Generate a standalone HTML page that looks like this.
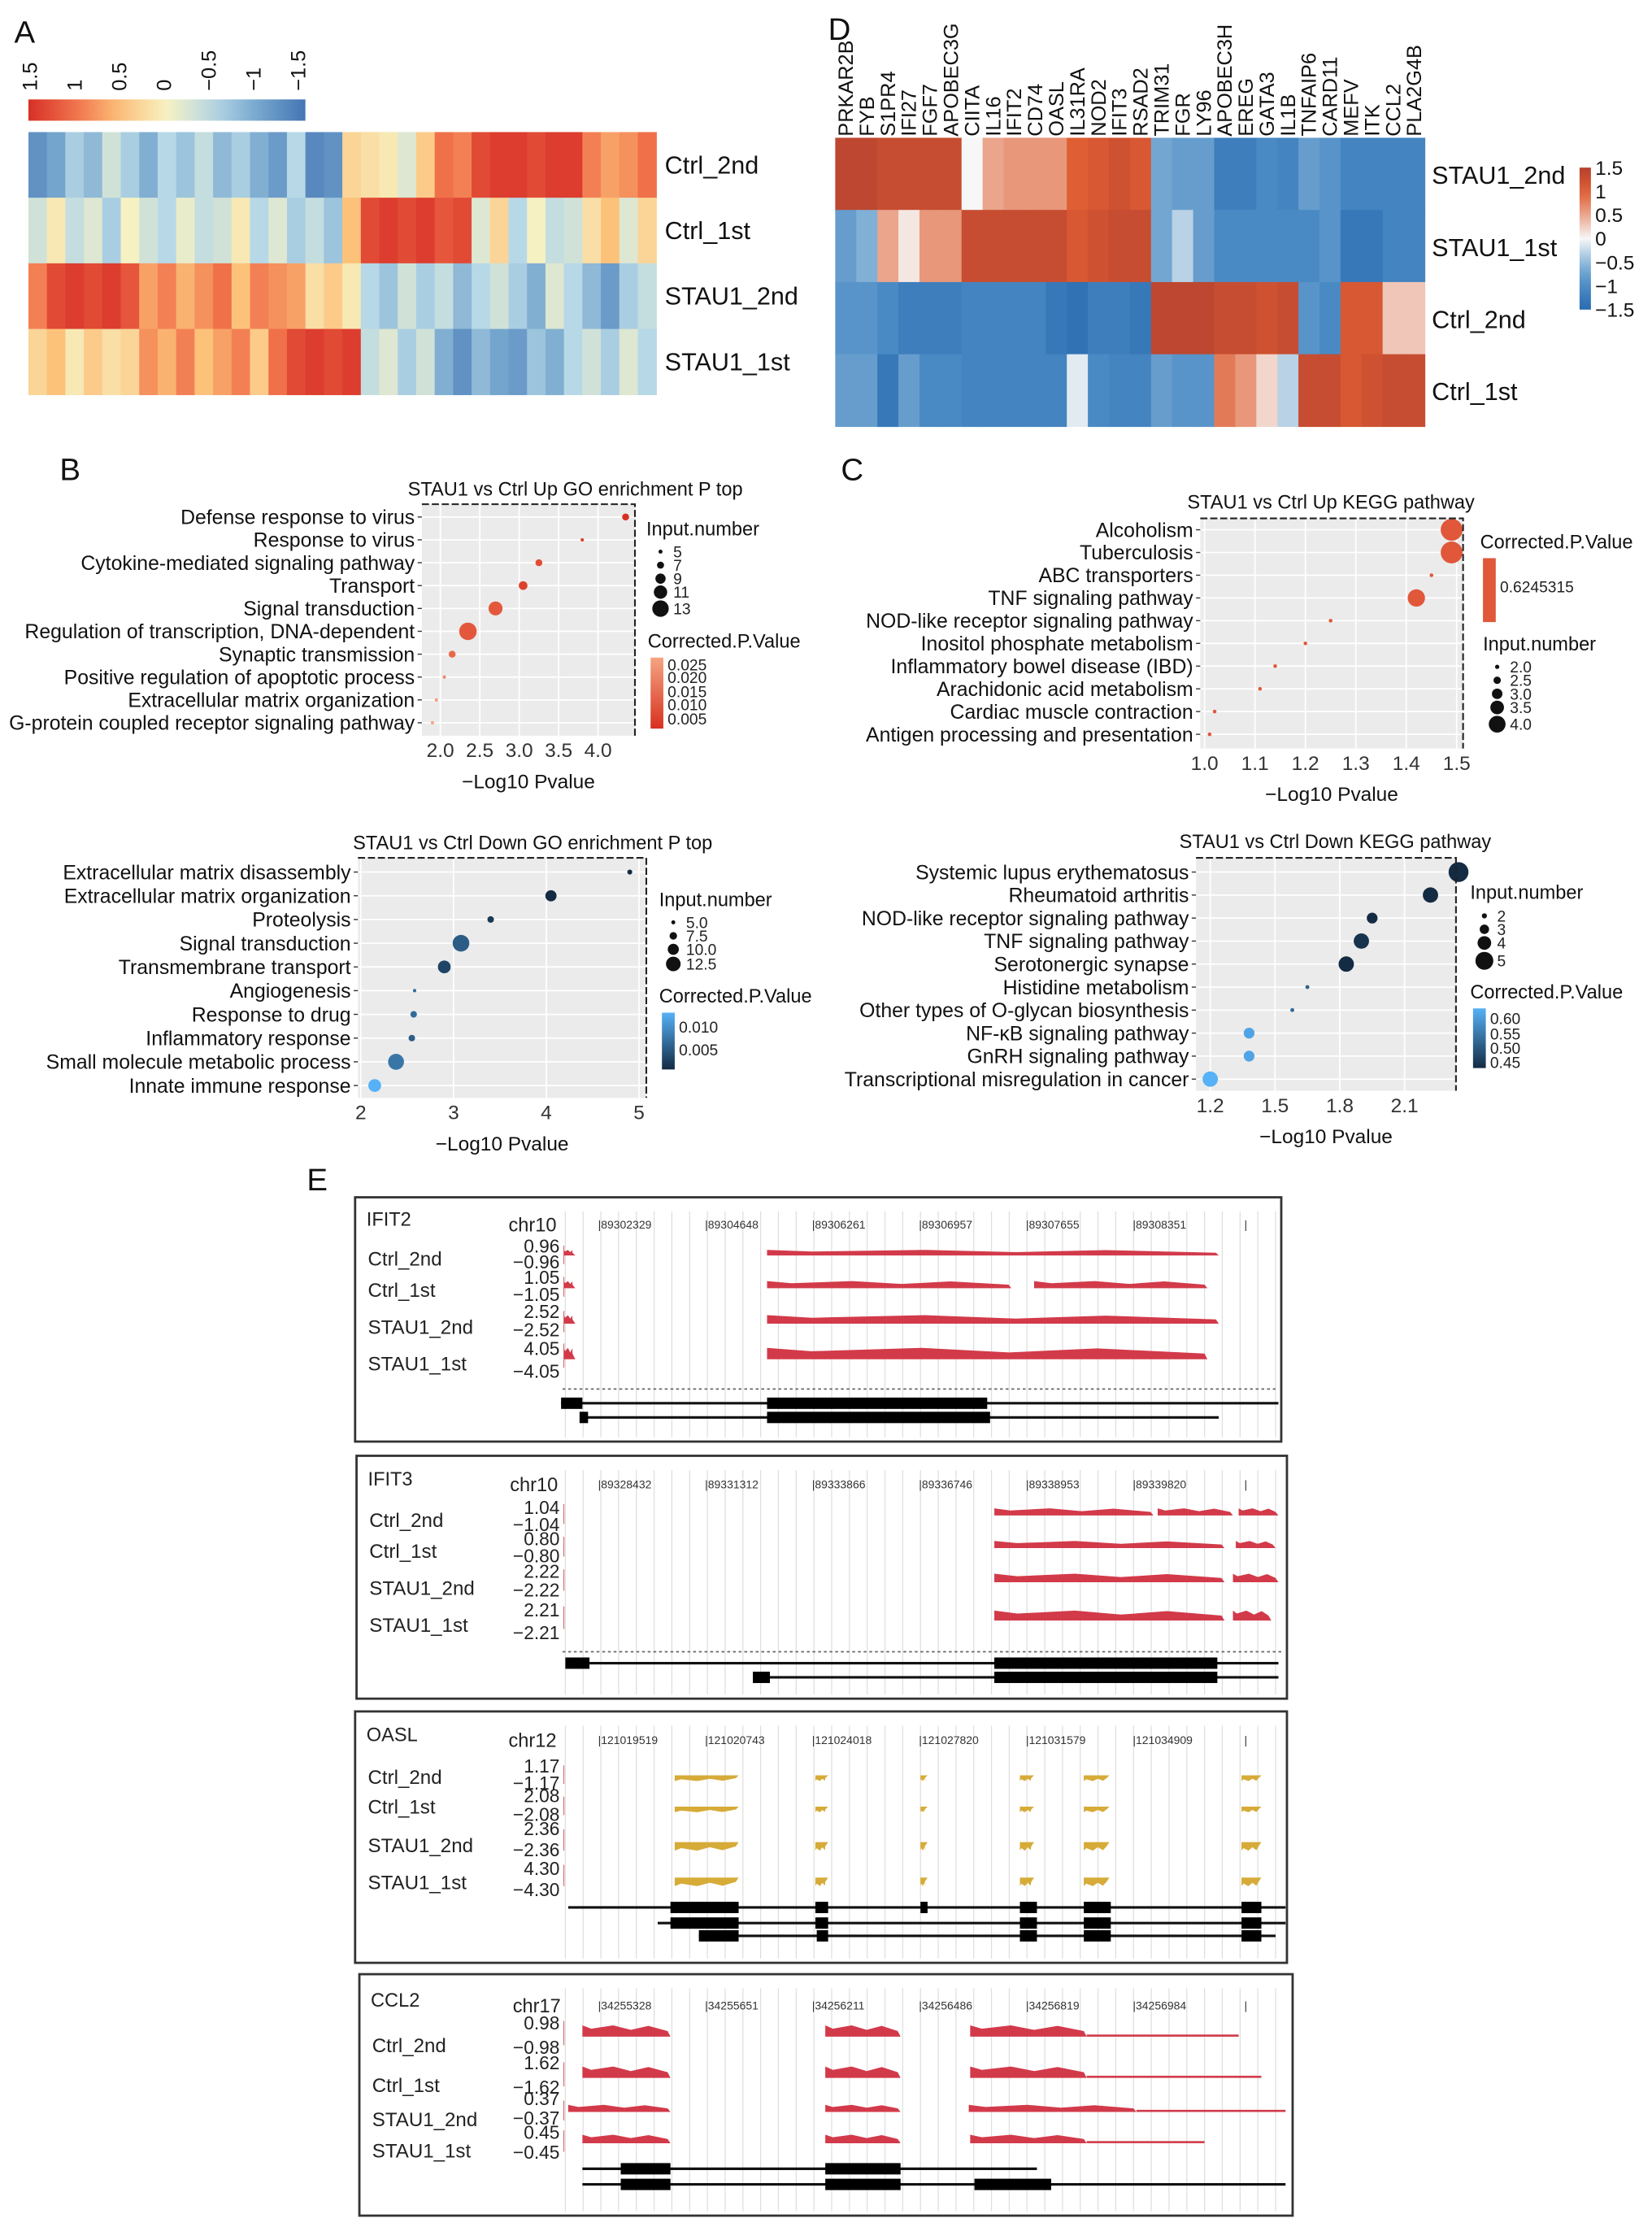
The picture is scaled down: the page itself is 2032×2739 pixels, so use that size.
<!DOCTYPE html>
<html><head><meta charset="utf-8"><style>
html,body{margin:0;padding:0;background:#fff;}
svg{display:block;font-family:"Liberation Sans",Arial,sans-serif;}
</style></head><body>
<svg id="fig" width="2032" height="2739" viewBox="0 0 1163 1568" preserveAspectRatio="none" xmlns="http://www.w3.org/2000/svg">
<rect width="1163" height="1568" fill="#fff"/>
<g font-size="22" fill="#111">
<text x="10" y="30">A</text>
<text x="583" y="28">D</text>
<text x="42" y="338">B</text>
<text x="592" y="338">C</text>
<text x="216" y="838">E</text>
</g>
<g id="gA"></g>
<g id="gD"></g>
<g id="gB1"></g>
<g id="gB2"></g>
<g id="gC1"></g>
<g id="gC2"></g>
<g id="gE"></g>
</svg>
<script>
// ---------- Panel A data ----------
const aRows = ["Ctrl_2nd","Ctrl_1st","STAU1_2nd","STAU1_1st"];
const aCtrl2 = [-1.2,-1.0,-0.6,-0.8,-0.3,-0.6,-0.9,-0.5,-0.7,-0.4,-0.8,-0.6,-0.9,-1.1,-0.5,-1.3,-1.2,0.3,0.2,0.1,-0.2,0.4,1.0,0.9,1.3,1.4,1.4,1.3,1.4,1.4,0.9,0.7,0.8,1.0];
const aCtrl1 = [-0.3,0.1,-0.4,-0.2,-0.6,0.0,-0.3,-0.5,-0.1,-0.4,-0.3,0.1,-0.5,-0.2,-0.6,-0.4,-0.7,0.5,1.3,1.4,1.3,1.4,1.2,1.3,-0.2,0.3,-0.5,0.0,-0.4,-0.3,0.2,0.5,-0.2,0.3];
const aStau2 = [0.9,1.3,1.4,1.3,1.4,1.2,0.7,0.9,0.6,0.8,1.0,0.5,0.9,0.8,0.7,0.2,0.4,0.1,-0.5,-0.7,-0.3,-0.6,-0.4,-0.8,-0.5,-0.3,-0.6,-0.9,-0.2,-0.5,-0.8,-1.1,-0.6,-0.4];
const aStau1 = [0.3,0.5,0.1,0.4,0.2,0.3,0.8,0.6,0.9,0.5,0.7,0.9,0.4,1.0,1.3,1.4,1.3,1.4,-0.4,-0.2,-0.6,-0.3,-0.9,-1.2,-0.8,-1.0,-1.1,-0.7,-0.9,-0.5,-0.3,-0.6,-0.2,-0.5];
const aTicks = ["1.5","1","0.5","0","\u22120.5","\u22121","\u22121.5"];
// ---------- Panel D data ----------
const dGenes = ["PRKAR2B","FYB","S1PR4","IFI27","FGF7","APOBEC3G","CIITA","IL16","IFIT2","CD74","OASL","IL31RA","NOD2","IFIT3","RSAD2","TRIM31","FGR","LY96","APOBEC3H","EREG","GATA3","IL1B","TNFAIP6","CARD11","MEFV","ITK","CCL2","PLA2G4B"];
const dRows = ["STAU1_2nd","STAU1_1st","Ctrl_2nd","Ctrl_1st"];
const dStau2 = [1.4,1.4,1.3,1.3,1.3,1.3,0,0.5,0.6,0.6,0.6,1.0,1.1,1.2,1.1,-0.7,-0.8,-0.8,-1.2,-1.2,-1.0,-1.1,-0.8,-0.9,-1.1,-1.1,-1.1,-1.1];
const dStau1 = [-0.8,-0.6,0.5,0.1,0.6,0.6,1.3,1.3,1.3,1.3,1.3,1.1,1.2,1.3,1.3,-0.7,-0.3,-0.8,-1.0,-1.0,-1.0,-1.0,-1.0,-0.9,-1.3,-1.3,-1.1,-1.1];
const dCtrl2 = [-0.9,-0.9,-1.0,-1.2,-1.2,-1.2,-1.1,-1.1,-1.1,-1.1,-1.3,-1.4,-1.2,-1.2,-1.3,1.4,1.4,1.4,1.3,1.3,1.2,1.3,-0.9,-1.0,1.1,1.1,0.3,0.3];
const dCtrl1 = [-0.8,-0.8,-1.3,-0.8,-1.0,-1.0,-1.1,-1.1,-1.1,-1.1,-1.1,-0.1,-1.0,-1.1,-1.1,-0.8,-0.9,-0.9,0.8,0.6,0.2,-0.3,1.3,1.3,1.1,1.2,1.3,1.3];
const dTicks = ["1.5","1","0.5","0","\u22120.5","\u22121","\u22121.5"];
const dTickVals = [1.5,1,0.5,0,-0.5,-1,-1.5];
// ---------- Panel B up ----------
const b1Terms = ["Defense response to virus","Response to virus","Cytokine-mediated signaling pathway","Transport","Signal transduction","Regulation of transcription, DNA-dependent","Synaptic transmission","Positive regulation of apoptotic process","Extracellular matrix organization","G-protein coupled receptor signaling pathway"];
const b1X = [4.35,3.8,3.25,3.05,2.7,2.35,2.15,2.05,1.95,1.9];
const b1Size = [7,5,7,8,11,13,7,5,5,5];
const b1P = [0.005,0.008,0.010,0.008,0.012,0.012,0.015,0.02,0.024,0.025];
const b1Ticks = [2.0,2.5,3.0,3.5,4.0];
// ---------- Panel B down ----------
const b2Terms = ["Extracellular matrix disassembly","Extracellular matrix organization","Proteolysis","Signal transduction","Transmembrane transport","Angiogenesis","Response to drug","Inflammatory response","Small molecule metabolic process","Innate immune response"];
const b2X = [4.9,4.05,3.4,3.08,2.9,2.58,2.57,2.55,2.38,2.15];
const b2Size = [5,9,6,12.5,10,4,6,6,12,10];
const b2P = [0.001,0.001,0.002,0.005,0.003,0.006,0.006,0.005,0.007,0.012];
const b2Ticks = [2,3,4,5];
// ---------- Panel C up ----------
const c1Terms = ["Alcoholism","Tuberculosis","ABC transporters","TNF signaling pathway","NOD-like receptor signaling pathway","Inositol phosphate metabolism","Inflammatory bowel disease (IBD)","Arachidonic acid metabolism","Cardiac muscle contraction","Antigen processing and presentation"];
const c1X = [1.49,1.49,1.45,1.42,1.25,1.2,1.14,1.11,1.02,1.01];
const c1Size = [4,4,2,3.5,2,2,2,2,2,2];
const c1Ticks = [1.0,1.1,1.2,1.3,1.4,1.5];
// ---------- Panel C down ----------
const c2Terms = ["Systemic lupus erythematosus","Rheumatoid arthritis","NOD-like receptor signaling pathway","TNF signaling pathway","Serotonergic synapse","Histidine metabolism","Other types of O-glycan biosynthesis","NF-\u03baB signaling pathway","GnRH signaling pathway","Transcriptional misregulation in cancer"];
const c2X = [2.35,2.22,1.95,1.9,1.83,1.65,1.58,1.38,1.38,1.2];
const c2Size = [5,4,3,4,4,1.5,1.5,3,3,4];
const c2P = [0.45,0.45,0.45,0.46,0.45,0.52,0.53,0.62,0.62,0.64];
const c2Ticks = [1.2,1.5,1.8,2.1];

const NS="http://www.w3.org/2000/svg";
function mk(parent,tag,attrs,txt){const e=document.createElementNS(NS,tag);for(const k in attrs)e.setAttribute(k,attrs[k]);if(txt!==undefined)e.textContent=txt;parent.appendChild(e);return e;}
function hex(h){return [parseInt(h.slice(1,3),16),parseInt(h.slice(3,5),16),parseInt(h.slice(5,7),16)];}
function ramp(stops){return v=>{if(v<=stops[0][0])return stops[0][1];for(let i=1;i<stops.length;i++){if(v<=stops[i][0]){const t=(v-stops[i-1][0])/(stops[i][0]-stops[i-1][0]);const a=hex(stops[i-1][1]),b=hex(stops[i][1]);return "rgb("+a.map((x,j)=>Math.round(x+(b[j]-x)*t)).join(",")+")";}}return stops[stops.length-1][1];};}
const colA=ramp([[-1.5,"#4575b4"],[-1,"#74a5cd"],[-0.5,"#b7d8e6"],[0,"#f6f1c3"],[0.5,"#fdc27a"],[1,"#f0704a"],[1.5,"#d73027"]]);
const colD=ramp([[-1.5,"#2b6cb0"],[-1,"#4a8ac4"],[-0.5,"#8fbadb"],[0,"#f7f7f7"],[0.5,"#eaa58c"],[1,"#df5e33"],[1.5,"#b5412f"]]);

// ===== Panel A =====
(function(){
const g=document.getElementById("gA");
const x0=20,x1=462,y0=93,rh=46.2;
const rows=[aCtrl2,aCtrl1,aStau2,aStau1];
const cw=(x1-x0)/aCtrl2.length;
rows.forEach((r,ri)=>{r.forEach((v,ci)=>{
 const c=mk(g,"rect",{x:x0+ci*cw,y:y0+ri*rh,width:cw+0.4,height:rh+0.4,fill:colA(v)});
 
 
});
 const t=mk(g,"text",{x:468,y:y0+ri*rh+rh/2+6,"font-size":17.5,fill:"#111"},aRows[ri]);
 
 
});
const gr=mk(g,"defs",{});const lg=mk(gr,"linearGradient",{id:"gradA"});
for(let i=0;i<=10;i++){mk(lg,"stop",{offset:(i*10)+"%","stop-color":colA(1.5-i*0.3)});}
const cb=mk(g,"rect",{x:20,y:70,width:195,height:15,fill:"url(#gradA)"});


aTicks.forEach((s,i)=>{const x=26+i*31.5;
 const t=mk(g,"text",{x:x,y:64,"font-size":14.5,fill:"#111",transform:"rotate(-90 "+x+" 64)"},s);
 
 });
})();

// ===== Panel D =====
(function(){
const g=document.getElementById("gD");
const x0=588,x1=1003,y0=97,rh=50.8;
const rows=[dStau2,dStau1,dCtrl2,dCtrl1];
const cw=(x1-x0)/dGenes.length;
rows.forEach((r,ri)=>{r.forEach((v,ci)=>{
 const c=mk(g,"rect",{x:x0+ci*cw,y:y0+ri*rh,width:cw+0.4,height:rh+0.4,fill:colD(v)});
 
 });
 const t=mk(g,"text",{x:1008,y:y0+ri*rh+rh/2+7,"font-size":17.5,fill:"#111"},dRows[ri]);
 
 
});
dGenes.forEach((s,i)=>{const x=x0+i*cw+cw/2+5;
 const t=mk(g,"text",{x:x,y:96,"font-size":14.5,fill:"#111",transform:"rotate(-90 "+x+" 96)"},s);
 
 });
const df=mk(g,"defs",{});const lg=mk(df,"linearGradient",{id:"gradD",x1:0,y1:0,x2:0,y2:1});
for(let i=0;i<=10;i++){mk(lg,"stop",{offset:(i*10)+"%","stop-color":colD(1.5-i*0.3)});}
const cb=mk(g,"rect",{x:1112,y:118,width:8,height:100,fill:"url(#gradD)"});


dTicks.forEach((s,i)=>{const y=218-(dTickVals[i]+1.5)/3*100+5;
 const t=mk(g,"text",{x:1123,y:y,"font-size":14,fill:"#111"},s);
 
 });
})();

// ===== generic dotplot =====
function dotplot(g,o){
 const sx=v=>o.px0+(v-o.v0)*o.k;
 const bg=mk(g,"rect",{x:o.x0,y:o.y0,width:o.x1-o.x0,height:o.y1-o.y0,fill:"#ebebeb"});
 
 
 o.ticks.forEach(t=>{const l=mk(g,"line",{x1:sx(t),x2:sx(t),y1:o.y0,y2:o.y1,stroke:"#fff","stroke-width":1});
  
  
  const tx=mk(g,"text",{x:sx(t),y:o.y1+15,"font-size":14,fill:"#333","text-anchor":"middle"},o.fmt(t));
  
  });
 o.terms.forEach((s,i)=>{const y=o.ry0+i*o.rs;
  const l=mk(g,"line",{x1:o.x0,x2:o.x1,y1:y,y2:y,stroke:"#fff","stroke-width":1});
  
  
  const tk=mk(g,"line",{x1:o.x0-3,x2:o.x0,y1:y,y2:y,stroke:"#333","stroke-width":0.8});
  
  
  const t=mk(g,"text",{x:o.x0-5,y:y+5,"font-size":14.2,fill:"#111","text-anchor":"end"},s);
  
  
  const c=mk(g,"circle",{cx:sx(o.xs[i]),cy:y,r:o.rad(o.sizes[i]),fill:o.col(i)});
  
  });
 const br=mk(g,"path",{d:`M${o.x0} ${o.y0} H${o.x1} V${o.y1}`,fill:"none",stroke:"#222","stroke-width":1.2,"stroke-dasharray":"5 2"});
 
 
 const ti=mk(g,"text",{x:o.tx,y:o.ty,"font-size":13.5,fill:"#111","text-anchor":"middle"},o.title);
 
 
 const xl=mk(g,"text",{x:(o.x0+o.x1)/2,y:o.y1+37,"font-size":14,fill:"#111","text-anchor":"middle"},"\u2212Log10 Pvalue");
 
 
}
function legendSize(g,x,y,labels,vals,rad){
 const t=mk(g,"text",{x:x,y:y,"font-size":13.5,fill:"#111"},"Input.number");
 
 
 let cy=y+10;
 labels.forEach((s,i)=>{const r=rad(vals[i]);cy+=i?Math.max(r*2,9.5):r;
  const c=mk(g,"circle",{cx:x+10,cy:cy,r:r,fill:"#111"});
  
  
  const l=mk(g,"text",{x:x+19,y:cy+4,"font-size":11,fill:"#222"},s);
  
  });
}
function legendColor(g,x,y,h,gid,stops,labels,lys){
 const t=mk(g,"text",{x:x,y:y,"font-size":13.5,fill:"#111"},"Corrected.P.Value");
 
 
 const df=mk(g,"defs",{});const lg=mk(df,"linearGradient",{id:gid,x1:0,y1:0,x2:0,y2:1});
 stops.forEach((c,i)=>mk(lg,"stop",{offset:(i/(stops.length-1)*100)+"%","stop-color":c}));
 const r=mk(g,"rect",{x:x+2,y:y+7,width:9,height:h,fill:"url(#"+gid+")"});
 
 
 labels.forEach((s,i)=>{const l=mk(g,"text",{x:x+14,y:lys[i],"font-size":11,fill:"#222"},s);
  
  });
}
(function(){const g=document.getElementById("gB1");
 const red=ramp([[0.005,"#d7301f"],[0.015,"#e8694a"],[0.025,"#f4a582"]]);
 const rad=s=>1.2+ (s-5)*0.62;
 dotplot(g,{x0:297,x1:447,y0:355,y1:518,px0:310,v0:2,k:55.5,ticks:b1Ticks,fmt:v=>v.toFixed(1),terms:b1Terms,ry0:364,rs:16.1,xs:b1X,sizes:b1Size,rad:rad,col:i=>red(b1P[i]),title:"STAU1 vs Ctrl Up GO enrichment P top",tx:405,ty:349});
 legendSize(g,455,377,["5","7","9","11","13"],[5,7,9,11,13],s=>1.4+(s-5)*0.55);
 legendColor(g,456,456,50,"gB1c",["#f4a582","#d7301f"],["0.025","0.020","0.015","0.010","0.005"],[472,481,491,500,510]);
})();
(function(){const g=document.getElementById("gB2");
 const blue=ramp([[0.001,"#132b43"],[0.006,"#336a98"],[0.012,"#56b1f7"]]);
 const rad=s=>1.2+(s-4)*0.55;
 dotplot(g,{x0:252,x1:455,y0:604,y1:773,px0:254,v0:2,k:65.3,ticks:b2Ticks,fmt:v=>String(v),terms:b2Terms,ry0:614,rs:16.7,xs:b2X,sizes:b2Size,rad:rad,col:i=>blue(b2P[i]),title:"STAU1 vs Ctrl Down GO enrichment P top",tx:375,ty:598});
 legendSize(g,464,638,["5.0","7.5","10.0","12.5"],[5,7.5,10,12.5],s=>1.4+(s-5)*0.5);
 legendColor(g,464,706,40,"gB2c",["#56b1f7","#132b43"],["0.010","0.005"],[727,743]);
})();
(function(){const g=document.getElementById("gC1");
 const rad=s=>1.3+(s-2)*3.2;
 dotplot(g,{x0:845,x1:1030,y0:365,y1:527,px0:848,v0:1,k:355,ticks:c1Ticks,fmt:v=>v.toFixed(1),terms:c1Terms,ry0:373,rs:16,xs:c1X,sizes:c1Size,rad:rad,col:i=>"#e0573a",title:"STAU1 vs Ctrl Up KEGG pathway",tx:937,ty:358});
 legendColor(g,1042,386,45,"gC1c",["#e0573a","#e0573a"],["0.6245315"],[417]);
 legendSize(g,1044,458,["2.0","2.5","3.0","3.5","4.0"],[2,2.5,3,3.5,4],s=>1.5+(s-2)*2.2);
})();
(function(){const g=document.getElementById("gC2");
 const blue=ramp([[0.45,"#132b43"],[0.53,"#336a98"],[0.64,"#56b1f7"]]);
 const rad=s=>1.4+(s-1.5)*1.6;
 dotplot(g,{x0:842,x1:1025,y0:604,y1:768,px0:852,v0:1.2,k:152,ticks:c2Ticks,fmt:v=>v.toFixed(1),terms:c2Terms,ry0:614,rs:16.2,xs:c2X,sizes:c2Size,rad:rad,col:i=>blue(c2P[i]),title:"STAU1 vs Ctrl Down KEGG pathway",tx:940,ty:597});
 legendSize(g,1035,633,["2","3","4","5"],[2,3,4,5],s=>1.8+(s-2)*1.5);
 legendColor(g,1035,703,42,"gC2c",["#56b1f7","#132b43"],["0.60","0.55","0.50","0.45"],[721,732,742,752]);
})();

// ===== Panel E =====
const tracks=[
 {name:"IFIT2",box:[250,843,902,1015],chr:"chr10",ty:863,ticks:["89302329","89304648","89306261","89306957","89307655","89308351"],
  samples:["Ctrl_2nd","Ctrl_1st","STAU1_2nd","STAU1_1st"],sy:[891,913,939,965],scales:["0.96","1.05","2.52","4.05"],scy:[[882,893],[904,916],[928,941],[954,970]],
  base:[884,907,932,957],h:[4,5,6,8],color:"#d23a4a",down:false,
  segs:[[[397,405],[540,858]],[[397,405],[540,712],[728,850]],[[397,405],[540,858]],[[397,405],[540,850]]],
  dot:978,model:[{y:988,thin:[395,900],thick:[[395,410],[540,695]]},{y:998,thin:[410,858],thick:[[408,414],[540,697]]}]},
 {name:"IFIT3",box:[251,1025,906,1196],chr:"chr10",ty:1046,ticks:["89328432","89331312","89333866","89336746","89338953","89339820"],
  samples:["Ctrl_2nd","Ctrl_1st","STAU1_2nd","STAU1_1st"],sy:[1075,1097,1123,1149],scales:["1.04","0.80","2.22","2.21"],scy:[[1066,1078],[1088,1100],[1111,1124],[1138,1154]],
  base:[1067,1090,1114,1141],h:[5,5,6,7],color:"#d23a4a",down:false,
  segs:[[[700,812],[815,868],[872,900]],[[700,862],[870,898]],[[700,862],[868,900]],[[700,862],[868,895]]],
  dot:1163,model:[{y:1171,thin:[415,900],thick:[[398,415],[700,857]]},{y:1181,thin:[542,900],thick:[[530,542],[700,857]]}]},
 {name:"OASL",box:[250,1205,906,1382],chr:"chr12",ty:1226,ticks:["121019519","121020743","121024018","121027820","121031579","121034909"],
  samples:["Ctrl_2nd","Ctrl_1st","STAU1_2nd","STAU1_1st"],sy:[1256,1277,1304,1330],scales:["1.17","2.08","2.36","4.30"],scy:[[1248,1260],[1269,1282],[1292,1307],[1320,1335]],
  base:[1250,1272,1297,1322],h:[4,4,6,6],color:"#d6ab38",down:true,
  segs:[[[475,520],[574,583],[648,653],[718,728],[763,781],[874,888]],[[475,520],[574,583],[648,653],[718,728],[763,781],[874,888]],[[475,520],[574,583],[648,653],[718,728],[763,781],[874,888]],[[475,520],[574,583],[648,653],[718,728],[763,781],[874,888]]],
  dot:null,model:[{y:1343,thin:[400,905],thick:[[472,520],[574,583],[648,653],[718,730],[763,782],[874,888]]},{y:1354,thin:[463,905],thick:[[472,520],[574,583],[718,730],[763,782],[874,888]]},{y:1363,thin:[492,898],thick:[[492,520],[575,583],[718,730],[763,782],[874,888]]}]},
 {name:"CCL2",box:[253,1390,910,1560],chr:"chr17",ty:1413,ticks:["34255328","34255651","34256211","34256486","34256819","34256984"],
  samples:["Ctrl_2nd","Ctrl_1st","STAU1_2nd","STAU1_1st"],sy:[1445,1473,1497,1519],scales:["0.98","1.62","0.37","0.45"],scy:[[1429,1446],[1457,1474],[1482,1496],[1506,1520]],
  base:[1434,1463,1487,1509],h:[8,8,5,6],color:"#d23a4a",down:false,
  segs:[[[410,472],[581,634],[683,765]],[[410,472],[581,634],[683,765]],[[400,472],[581,634],[682,800]],[[410,472],[581,634],[683,765]]],
  tails:[[765,872],[765,888],[800,905],[765,848]],
  dot:null,model:[{y:1527,thin:[410,730],thick:[[437,472],[581,634]]},{y:1538,thin:[410,905],thick:[[437,472],[581,634],[686,740]]}]}
];
(function(){
const g=document.getElementById("gE");
tracks.forEach(tr=>{
 const [bx0,by0,bx1,by1]=tr.box;
 const gg=mk(g,"g",{});
 
 
 for(let x=398;x<bx1-2;x+=12.5){mk(gg,"line",{x1:x,x2:x,y1:by0+10,y2:by1-3,stroke:"#dedede","stroke-width":0.7});}
 const box=mk(gg,"rect",{x:bx0,y:by0,width:bx1-bx0,height:by1-by0,fill:"none",stroke:"#333","stroke-width":1.6});
 
 
 const nm=mk(gg,"text",{x:bx0+8,y:tr.ty,"font-size":13.5,fill:"#222"},tr.name);
 
 
 const ch=mk(gg,"text",{x:bx0+108,y:tr.ty+4,"font-size":13.5,fill:"#222"},tr.chr);
 
 
 tr.ticks.forEach((s,i)=>{const t=mk(gg,"text",{x:421+i*75.3,y:tr.ty+2,"font-size":8,fill:"#333"},"|"+s);
  
  });
 const tl=mk(gg,"text",{x:876,y:tr.ty+2,"font-size":8,fill:"#333"},"|");
 
 
 tr.samples.forEach((s,i)=>{
  const t=mk(gg,"text",{x:bx0+9,y:tr.sy[i],"font-size":13.8,fill:"#222"},s);
  
  
  const a=mk(gg,"text",{x:394,y:tr.scy[i][0],"font-size":13,fill:"#222","text-anchor":"end"},tr.scales[i]);
  
  
  const b=mk(gg,"text",{x:394,y:tr.scy[i][1],"font-size":13,fill:"#222","text-anchor":"end"},"\u2212"+tr.scales[i]);
  
  
  mk(gg,"line",{x1:397,x2:397,y1:tr.base[i]-tr.h[i]-3,y2:tr.base[i]+6,stroke:"#c44","stroke-width":0.5});
  if(tr.tails){const tt=tr.tails[i];
   const tl2=mk(gg,"rect",{x:tt[0],y:tr.base[i]-1.5,width:tt[1]-tt[0],height:1.5,fill:tr.color});
   
   }
  tr.segs[i].forEach(sg=>{
   const b0=tr.base[i],h=tr.h[i],d=tr.down?1:-1;
   const x0=sg[0],x1=sg[1];
   const p=`M${x0} ${b0} L${x0} ${b0+d*h} L${x0+(x1-x0)*0.1} ${b0+d*h*0.7} L${x0+(x1-x0)*0.35} ${b0+d*h} L${x0+(x1-x0)*0.55} ${b0+d*h*0.6} L${x0+(x1-x0)*0.75} ${b0+d*h*0.95} L${x1-2} ${b0+d*h*0.5} L${x1} ${b0} Z`;
   const s2=mk(gg,"path",{d:p,fill:tr.color});
   
   
  });
 });
 if(tr.dot){const dl=mk(gg,"line",{x1:396,x2:bx1-2,y1:tr.dot,y2:tr.dot,stroke:"#666","stroke-width":1,"stroke-dasharray":"2 2"});
  
  }
 tr.model.forEach(m=>{
  const l=mk(gg,"line",{x1:m.thin[0],x2:m.thin[1],y1:m.y,y2:m.y,stroke:"#111","stroke-width":1.8});
  
  
  m.thick.forEach(k=>{const r=mk(gg,"rect",{x:k[0],y:m.y-4,width:k[1]-k[0],height:8,fill:"#000"});
   
   });
 });
});
})();
</script>
</body></html>
